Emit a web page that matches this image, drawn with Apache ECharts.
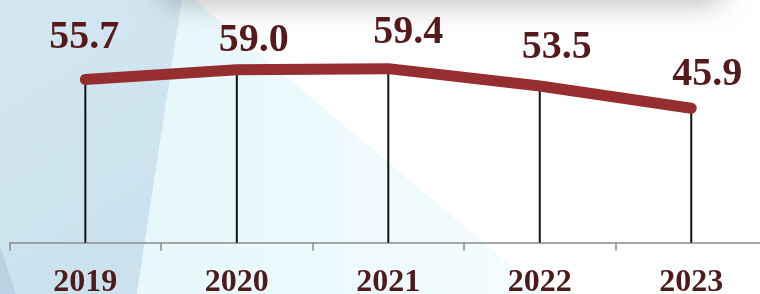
<!DOCTYPE html>
<html>
<head>
<meta charset="utf-8">
<style>
  html, body { margin: 0; padding: 0; overflow: hidden; }
  #chart { width: 767px; height: 294px; }
</style>
<script src="https://cdn.jsdelivr.net/npm/echarts@6/dist/echarts.min.js"></script>
</head>
<body>
<div id="chart"></div>
<script>
var years = ['2019', '2020', '2021', '2022', '2023'];
var values = [55.7, 59.0, 59.4, 53.5, 45.9];
// label nudges (x, y) so labels sit like the original
var labelShift = [[-1, -42], [17, -29], [20, -36], [17, -38], [16, -34]];

var chart = echarts.init(document.getElementById('chart'));

var serif = '"Liberation Serif", "Times New Roman", serif';

chart.setOption({
  animation: false,
  backgroundColor: '#ffffff',
  graphic: [
    // left light-blue panel
    {
      type: 'polygon', z: -10, silent: true,
      shape: { points: [[0, 0], [182, 0], [137, 294], [0, 294]] },
      style: {
        fill: new echarts.graphic.LinearGradient(0, 0, 1, 1, [
          { offset: 0, color: '#d3e7f1' },
          { offset: 1, color: '#c9e1ed' }
        ])
      }
    },
    // pale cyan band
    {
      type: 'polygon', z: -10, silent: true,
      shape: { points: [[182, 0], [195, 0], [545, 294], [137, 294]] },
      style: {
        fill: new echarts.graphic.LinearGradient(0, 0, 1, 0, [
          { offset: 0, color: '#e6f7fb' },
          { offset: 1, color: '#f4fcfe' }
        ])
      }
    },
    // dark corner bottom-left
    {
      type: 'polygon', z: -9, silent: true,
      shape: { points: [[0, 245], [16, 294], [0, 294]] },
      style: { fill: '#b9d3e3' }
    },
    // soft shadow from a card above
    {
      type: 'rect', z: -8, silent: true,
      shape: { x: 160, y: -40, width: 565, height: 40, r: 20 },
      style: {
        fill: '#ffffff',
        shadowBlur: 28,
        shadowOffsetY: 4,
        shadowColor: 'rgba(0,0,0,0.26)'
      }
    }
  ],
  grid: { left: 9.6, right: 0, top: 8.3, bottom: 51.3, outerBoundsMode: 'none' },
  xAxis: {
    type: 'category',
    data: years,
    boundaryGap: true,
    axisLine: { show: true, lineStyle: { color: '#8a8a8a', width: 1.5 } },
    axisTick: { show: true, length: 8, lineStyle: { color: '#8a8a8a', width: 1.5 } },
    axisLabel: {
      color: '#4f1a1c',
      fontFamily: serif,
      fontWeight: 'bold',
      fontSize: 32,
      margin: 24
    }
  },
  yAxis: {
    type: 'value',
    min: 0,
    max: 80,
    show: false,
    splitLine: { show: false }
  },
  series: [
    {
      name: 'stem',
      type: 'bar',
      data: values,
      barWidth: 2,
      itemStyle: { color: '#111111' },
      z: 1
    },
    {
      name: 'value',
      type: 'line',
      data: values.map(function (v, i) {
        return {
          value: v,
          label: { offset: labelShift[i] }
        };
      }),
      symbol: 'circle',
      symbolSize: 1,
      showSymbol: true,
      itemStyle: { color: '#962d2f' },
      lineStyle: { color: '#962d2f', width: 11, cap: 'round', join: 'round' },
      label: {
        show: true,
        position: 'inside',
        color: '#561a1c',
        fontFamily: serif,
        fontWeight: 'bold',
        fontSize: 40,
        lineHeight: 40,
        formatter: function (p) { return p.value.toFixed(1); }
      },
      z: 3
    }
  ]
});
</script>
</body>
</html>
